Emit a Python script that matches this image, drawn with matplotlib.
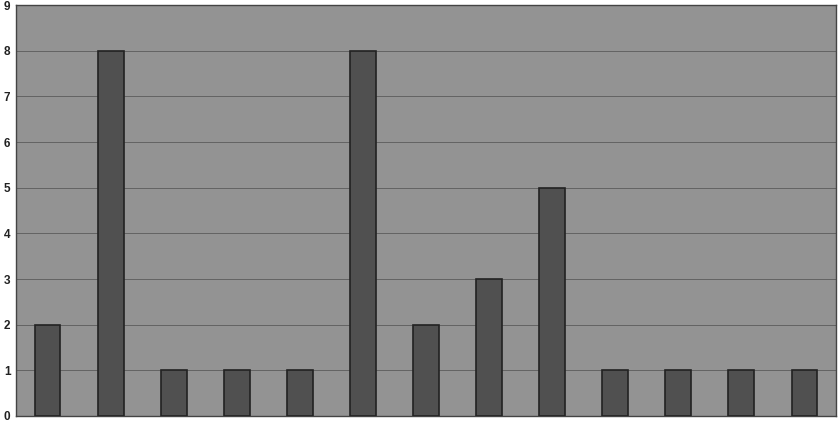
import matplotlib
matplotlib.use("Agg")
from matplotlib import pyplot as plt
import numpy as np

# one bar per category, no category labels in the original
categories = list(range(1, 14))
counts = [2, 8, 1, 1, 1, 8, 2, 3, 5, 1, 1, 1, 1]
yticks = list(range(0, 10))

fig = plt.figure(figsize=(8.4, 4.25), dpi=100)
fig.patch.set_facecolor('white')
ax = fig.add_axes([16 / 840, 9 / 425, 820 / 840, 411 / 425])
ax.set_facecolor('#939393')

x = np.arange(len(categories))
ax.bar(x, counts, width=0.41, color='#505050', edgecolor='#222222', linewidth=1.2, zorder=3)

ax.set_xlim(-0.5, len(categories) - 0.5)
ax.set_ylim(0, 9)
ax.set_yticks(yticks)
ax.set_yticklabels([str(t) for t in yticks], fontsize=8.5, fontfamily='Liberation Sans', fontweight='bold', color='#222222')
ax.set_xticks([])
ax.tick_params(axis='y', length=0, pad=4)
ax.yaxis.grid(True, color='#636363', linewidth=0.7, zorder=0)

for side in ['top', 'right', 'bottom', 'left']:
    ax.spines[side].set_color('#444444')
    ax.spines[side].set_linewidth(1.0)

fig.savefig('out.png', dpi=100)
